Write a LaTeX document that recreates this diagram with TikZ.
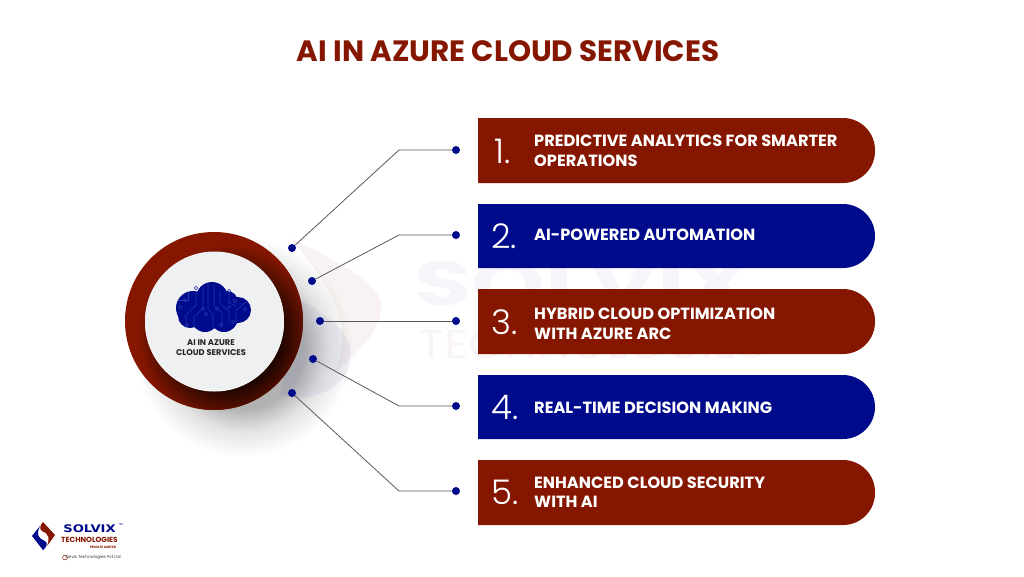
\documentclass[tikz,border=0pt]{standalone}
\usepackage{fontspec}
\setmainfont{Poppins}
\newfontfamily\thinfont{Poppins Light}
\newfontfamily\wideface{DejaVu Sans}
\definecolor{ringred}{HTML}{851700}
\definecolor{barnavy}{HTML}{000B8C}
\definecolor{circuitblue}{HTML}{2A35B0}
\definecolor{discgray}{HTML}{EEF0F2}
\pgfdeclareradialshading{ringshade}{\pgfpoint{0bp}{0bp}}{color(0bp)=(black!75!ringred); color(15bp)=(black!75!ringred); color(25bp)=(ringred); color(50bp)=(ringred)}
\pgfdeclareradialshading{softshade}{\pgfpoint{0bp}{0bp}}{color(0bp)=(black!35); color(14bp)=(black!30); color(19bp)=(black!11); color(25bp)=(white); color(50bp)=(white)}
\tikzset{
  bartitle/.style={text=white,font=\bfseries\fontsize{16.2}{19.5}\selectfont,align=left,anchor=west,inner sep=0pt},
  barnum/.style={text=white,font=\thinfont\fontsize{34}{34}\selectfont,anchor=west,inner sep=0pt},
  linkdot/.style={circle,fill=barnavy,minimum size=8pt,inner sep=0pt},
  linkline/.style={draw=black!65,line width=0.8pt},
  circuit/.style={draw=circuitblue,line width=0.6pt},
}
\begin{document}
\begin{tikzpicture}[x=1pt,y=-1pt]
\useasboundingbox (0,0) rectangle (1024,576);
\fill[white] (0,0) rectangle (1024,576);

% soft shadow under the ring
\shade[shading=softshade] (243,347) circle (110);

% watermark
\fill[ringred,opacity=0.05] (290,238) .. controls (340,262) and (385,285) .. (381,310) .. controls (378,335) and (355,355) .. (335,372) .. controls (350,335) and (345,300) .. cycle;
\fill[barnavy,opacity=0.05] (300,300) .. controls (345,325) and (360,345) .. (345,375) .. controls (325,400) and (300,400) .. (280,395) -- cycle;
\node[text=barnavy,opacity=0.04,font=\bfseries\fontsize{62}{62}\selectfont,inner sep=0pt] (marktop) at (583,284) {\scalebox{1.5}[1]{SOLVIX}};
\node[text=ringred,opacity=0.04,font=\fontsize{40}{40}\selectfont,inner sep=0pt] (markbot) at (592,345) {\scalebox{1.18}[1]{TECHNOLOGIES}};

\node[text=ringred,font=\bfseries\fontsize{29.4}{29.4}\selectfont,inner sep=0pt] (title) at (508,51) {AI IN AZURE CLOUD SERVICES};

% bars
\fill[ringred,rounded corners=32pt] (478,118) -- (875,118) -- (875,183) -- (478,183);
\fill[barnavy,rounded corners=32pt] (478,204) -- (875,204) -- (875,268) -- (478,268);
\fill[ringred,rounded corners=32pt] (478,289) -- (875,289) -- (875,354) -- (478,354);
\fill[barnavy,rounded corners=32pt] (478,375) -- (875,375) -- (875,439) -- (478,439);
\fill[ringred,rounded corners=32pt] (478,460) -- (875,460) -- (875,525) -- (478,525);

\node[barnum] (numa) at (494,151) {1.};
\node[barnum] (numb) at (491,236) {2.};
\node[barnum] (numc) at (491,322) {3.};
\node[barnum] (numd) at (491,407) {4.};
\node[barnum] (nume) at (491,492) {5.};

\node[bartitle] (texta) at (534,151) {PREDICTIVE ANALYTICS FOR SMARTER\\OPERATIONS};
\node[bartitle] (textb) at (534,234.5) {AI-POWERED AUTOMATION};
\node[bartitle] (textc) at (534,324) {HYBRID CLOUD OPTIMIZATION\\WITH AZURE ARC};
\node[bartitle] (textd) at (534,407.5) {REAL-TIME DECISION MAKING};
\node[bartitle] (texte) at (534,492) {ENHANCED CLOUD SECURITY\\WITH AI};

% ring and disc
\fill[ringred] (214,321) circle (89);
\begin{scope}
\clip (214,321) circle (89);
\shade[shading=ringshade] (228,335) circle (90);
\end{scope}
\fill[white] (214.5,322) circle (69.5);
\fill[discgray] (214.5,321) circle (69.5);

% cloud
\fill[barnavy] (193,308) circle (17) (212,298) circle (16) (227,302) circle (11) (238,310) circle (13) (224,318) circle (14) (205,318) circle (14) (190,316) circle (12);
\draw[circuit] (196,291) -- (196,305) -- (186,315) -- (186,327);
\draw[circuit] (203,287) -- (203,308) -- (194,317) -- (194,326);
\draw[circuit] (208,284) -- (208,309) -- (213,314) -- (213,327);
\draw[circuit] (214,285) -- (214,305) -- (222,313) -- (222,326);
\draw[circuit] (220,290) -- (220,303) -- (229,312) -- (229,322);
\draw[circuit] (229,292) -- (229,303) -- (236,306);
\draw[circuit] (246,302) -- (236,310) -- (236,322);
\draw[circuit] (178,300) -- (188,300) -- (188,292);
\foreach \cx/\cy in {196/288,185/300,180/307,203/309,217/309,229/291,229/307,235/301,245/309,206/314,187/325,221/325,233/322}
  \draw[circuit] (\cx,\cy) circle (1.8);
\node[text=black!85,font=\bfseries\fontsize{8.3}{9.6}\selectfont,align=center,inner sep=0pt] (disctext) at (211,347.5) {AI IN AZURE\\CLOUD SERVICES};

% links
\coordinate (benda) at (399,150);
\coordinate (bendb) at (399,235);
\coordinate (bendd) at (399,406);
\coordinate (bende) at (399,491);
\node[linkdot] (froma) at (292,248) {};
\node[linkdot] (fromb) at (312,281) {};
\node[linkdot] (fromc) at (320,321) {};
\node[linkdot] (fromd) at (313,359) {};
\node[linkdot] (frome) at (292,393) {};
\node[linkdot] (toa) at (456,150) {};
\node[linkdot] (tob) at (456,235) {};
\node[linkdot] (toc) at (456,321) {};
\node[linkdot] (tod) at (456,406) {};
\node[linkdot] (toe) at (456,491) {};
\draw[linkline] (froma) -- (benda) -- (toa);
\draw[linkline] (fromb) -- (bendb) -- (tob);
\draw[linkline] (fromc) -- (toc);
\draw[linkline] (fromd) -- (bendd) -- (tod);
\draw[linkline] (frome) -- (bende) -- (toe);

% logo
\fill[ringred] (43,522) -- (55,535) -- (47,546) .. controls (50,538) and (49,534) .. (42,531) .. controls (39,529) and (40,525) .. cycle;
\fill[barnavy] (32,536) -- (40,526) .. controls (36,535) and (38,538) .. (45,541) .. controls (48,543) and (47,547) .. (43,550) -- cycle;
\node[text=barnavy,font=\wideface\bfseries\fontsize{10.5}{10.5}\selectfont,inner sep=0pt] (logotop) at (89.5,529) {\scalebox{1.25}[1]{SOLVIX}};
\node[text=barnavy,font=\fontsize{3}{3}\selectfont,inner sep=0pt] (logotm) at (120.5,524) {TM};
\node[text=ringred,font=\bfseries\fontsize{7.4}{7.4}\selectfont,inner sep=0pt] (logomid) at (89.5,540) {TECHNOLOGIES};
\node[text=ringred,font=\bfseries\fontsize{3.2}{3.2}\selectfont,inner sep=0pt] (logolow) at (103,547) {PRIVATE LIMITED};
\node[text=black!80,font=\fontsize{4.2}{4.2}\selectfont,inner sep=0pt] (logoname) at (93,557) {Solvix Technologies Pvt Ltd};
\draw[ringred,line width=0.5pt] (65,557.5) circle (2.4);
\end{tikzpicture}
\end{document}
